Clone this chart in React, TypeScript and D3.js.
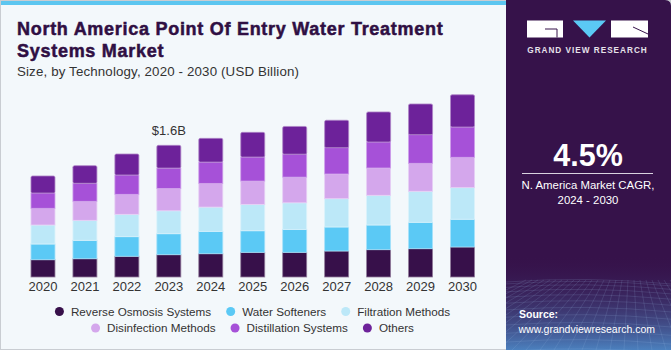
import { useEffect, useRef } from "react"
import * as d3 from "d3"

const years = ["2020", "2021", "2022", "2023", "2024", "2025", "2026", "2027", "2028", "2029", "2030"]
const reverseOsmosis = [0.21, 0.222, 0.252, 0.271, 0.283, 0.3, 0.3, 0.316, 0.332, 0.344, 0.365]
const waterSofteners = [0.191, 0.224, 0.238, 0.255, 0.272, 0.262, 0.279, 0.292, 0.3, 0.321, 0.337]
const filtrationMethods = [0.231, 0.243, 0.272, 0.279, 0.295, 0.321, 0.323, 0.344, 0.361, 0.377, 0.384]
const disinfectionMethods = [0.203, 0.231, 0.243, 0.272, 0.288, 0.283, 0.312, 0.3, 0.332, 0.34, 0.369]
const distillationSystems = [0.186, 0.219, 0.235, 0.247, 0.259, 0.292, 0.279, 0.32, 0.316, 0.348, 0.368]
const others = [0.207, 0.214, 0.255, 0.276, 0.288, 0.3, 0.337, 0.333, 0.365, 0.373, 0.392]

const seriesNames = [
  "Reverse Osmosis Systems",
  "Water Softeners",
  "Filtration Methods",
  "Disinfection Methods",
  "Distillation Systems",
  "Others",
]
const seriesColors = ["#37104a", "#5bc9f5", "#bce8f8", "#d4a7ec", "#a651d8", "#6d229a"]
const legendRows = [
  [0, 1, 2],
  [3, 4, 5],
]
const annotation = { year: "2023", label: "$1.6B" }

const W = 671
const H = 350
const font = "'Liberation Sans', Arial, sans-serif"

export default function App() {
  const svgRef = useRef<SVGSVGElement>(null)

  useEffect(() => {
    if (!svgRef.current) return
    const root = d3.select(svgRef.current)
    root.selectAll("*").remove()

    const values = [reverseOsmosis, waterSofteners, filtrationMethods, disinfectionMethods, distillationSystems, others]
    const table = years.map((year, i) => {
      const row: any = { year }
      seriesNames.forEach((name, s) => (row[name] = values[s][i]))
      return row
    })

    // Background
    root.append("rect").attr("width", W).attr("height", H).attr("fill", "#f3f8fb")
    root.append("rect").attr("x", 0).attr("y", 0).attr("width", 510).attr("height", 5).attr("fill", "#5cc6f0")
    root
      .append("rect")
      .attr("x", 0.5)
      .attr("y", 0.5)
      .attr("width", W - 1)
      .attr("height", H - 1)
      .attr("fill", "none")
      .attr("stroke", "#c9cdd2")

    // Titles
    const title = root
      .append("text")
      .attr("fill", "#2f0f43")
      .attr("font-family", font)
      .attr("font-weight", 700)
      .attr("font-size", 18)
      .attr("letter-spacing", 0.72)
      .attr("stroke", "#2f0f43")
      .attr("stroke-width", 0.5)
    title.append("tspan").attr("x", 17).attr("y", 35).text("North America Point Of Entry Water Treatment")
    title.append("tspan").attr("x", 17).attr("y", 56.5).text("Systems Market")

    root
      .append("text")
      .attr("x", 17)
      .attr("y", 76)
      .attr("fill", "#333")
      .attr("font-family", font)
      .attr("font-size", 13.3)
      .attr("letter-spacing", 0.15)
      .text("Size, by Technology, 2020 - 2030 (USD Billion)")

    // Scales
    const x = d3.scaleBand().domain(years).range([22, 483.5]).paddingInner(0.428).paddingOuter(0.214)
    const y = d3.scaleLinear().domain([0, 2.2]).range([277, 96])

    const stacked = d3.stack().keys(seriesNames)(table)

    const g = root.append("g")
    stacked.forEach((layer, s) => {
      const color = seriesColors[s]
      g.append("g")
        .selectAll("rect")
        .data(layer)
        .enter()
        .append("rect")
        .attr("x", (d: any) => x(d.data.year) || 0)
        .attr("y", (d) => y(d[1]))
        .attr("width", x.bandwidth())
        .attr("height", (d) => y(d[0]) - y(d[1]))
        .attr("fill", color)
        .attr("stroke", d3.interpolateRgb(color, "#ffffff")(0.45))
        .attr("stroke-width", 0.8)
        .attr("rx", s === seriesNames.length - 1 ? 1.5 : 0)
    })

    // X axis labels
    const xAxis = root
      .append("g")
      .attr("transform", `translate(0,${y(0)})`)
      .call(d3.axisBottom(x).tickSize(0).tickPadding(5))
    xAxis.select(".domain").remove()
    xAxis.selectAll("text").attr("font-family", font).attr("font-size", 13).attr("fill", "#333")

    // Annotation
    const idx = years.indexOf(annotation.year)
    const total = d3.sum(values, (v) => v[idx])
    root
      .append("text")
      .attr("x", (x(annotation.year) || 0) + x.bandwidth() / 2)
      .attr("y", y(total) - 10)
      .attr("text-anchor", "middle")
      .attr("font-family", font)
      .attr("font-size", 13)
      .attr("fill", "#333")
      .text(annotation.label)

    // Legend
    const legendCenter = 252.5
    const rowY = [311.5, 328]
    legendRows.forEach((row, r) => {
      const lg = root.append("g")
      let cursor = 0
      row.forEach((s, k) => {
        const item = lg.append("g").attr("transform", `translate(${cursor},0)`)
        item.append("circle").attr("cx", 4.5).attr("cy", 0).attr("r", 4.5).attr("fill", seriesColors[s])
        const t = item
          .append("text")
          .attr("x", 16)
          .attr("y", 4.2)
          .attr("font-family", font)
          .attr("font-size", 11.7)
          .attr("fill", "#333")
          .text(seriesNames[s])
        const len = (t.node() as SVGTextElement).getComputedTextLength()
        cursor += 16 + len + (k < row.length - 1 ? 15 : 0)
      })
      lg.attr("transform", `translate(${legendCenter - cursor / 2},${rowY[r]})`)
    })

    // Right panel
    const px = 506
    const defs = root.append("defs")
    const clip = defs.append("clipPath").attr("id", "panel-clip")
    clip.append("path").attr("d", `M${px},0 H${W - 6} Q${W},0 ${W},6 V${H} H${px} Z`)
    const grad = defs.append("linearGradient").attr("id", "panel-grad").attr("x1", 0).attr("y1", 0).attr("x2", 0).attr("y2", 1)
    grad.append("stop").attr("offset", "0%").attr("stop-color", "#36124a").attr("stop-opacity", 0)
    grad.append("stop").attr("offset", "100%").attr("stop-color", "#4c86c4").attr("stop-opacity", 0.95)

    const panel = root.append("g").attr("clip-path", "url(#panel-clip)")
    panel.append("rect").attr("x", px).attr("y", 0).attr("width", W - px).attr("height", H).attr("fill", "#36124a")
    panel.append("rect").attr("x", px).attr("y", 255).attr("width", W - px).attr("height", 95).attr("fill", "url(#panel-grad)")

    // decorative perspective grid
    const gridG = panel.append("g").attr("stroke", "#9fc3ea").attr("stroke-opacity", 0.25).attr("stroke-width", 0.6).attr("fill", "none")
    d3.range(0, 12).forEach((i) => {
      const yy = 282 + Math.pow(i, 1.5) * 1.9
      gridG.append("path").attr("d", `M${px},${yy} Q${px + 80},${yy - 6} ${W},${yy + 2}`)
    })
    d3.range(-10, 22).forEach((i) => {
      const topX = px + 80 + i * 6
      const botX = px + 80 + i * 14 - 60
      gridG.append("line").attr("x1", topX).attr("y1", 280).attr("x2", botX).attr("y2", H)
    })

    // logo
    const logo = root.append("g")
    logo.append("rect").attr("x", 527).attr("y", 20.5).attr("width", 36).attr("height", 17).attr("fill", "#fff")
    logo
      .append("path")
      .attr("d", "M545,29 H557 V37.5")
      .attr("stroke", "#36124a")
      .attr("stroke-width", 1)
      .attr("fill", "none")
    logo.append("path").attr("d", "M573,20.5 L606,20.5 L589.5,37.5 Z").attr("fill", "#5bc9f5")
    logo.append("rect").attr("x", 611).attr("y", 20.5).attr("width", 37).attr("height", 17).attr("fill", "#fff")
    logo
      .append("path")
      .attr("d", "M633,27 L648,34")
      .attr("stroke", "#36124a")
      .attr("stroke-width", 1)
    root
      .append("text")
      .attr("x", 587.5)
      .attr("y", 53)
      .attr("text-anchor", "middle")
      .attr("font-family", font)
      .attr("font-weight", 700)
      .attr("font-size", 8.2)
      .attr("letter-spacing", 1)
      .attr("fill", "#e6e1ea")
      .text("GRAND VIEW RESEARCH")

    root
      .append("text")
      .attr("x", 588)
      .attr("y", 165.5)
      .attr("text-anchor", "middle")
      .attr("font-family", font)
      .attr("font-weight", 700)
      .attr("font-size", 30.5)
      .attr("fill", "#fff")
      .text("4.5%")
    root.append("line").attr("x1", 522).attr("x2", 653).attr("y1", 173.5).attr("y2", 173.5).attr("stroke", "#d9d2df").attr("stroke-width", 1)
    const cagr = root
      .append("text")
      .attr("text-anchor", "middle")
      .attr("font-family", font)
      .attr("font-size", 11.4)
      .attr("fill", "#fff")
    cagr.append("tspan").attr("x", 588).attr("y", 189).text("N. America Market CAGR,")
    cagr.append("tspan").attr("x", 588).attr("y", 204).text("2024 - 2030")

    root
      .append("text")
      .attr("x", 519)
      .attr("y", 318)
      .attr("font-family", font)
      .attr("font-weight", 700)
      .attr("font-size", 10.5)
      .attr("fill", "#fff")
      .text("Source:")
    root
      .append("text")
      .attr("x", 518.5)
      .attr("y", 332.5)
      .attr("font-family", font)
      .attr("font-size", 10.5)
      .attr("fill", "#fff")
      .text("www.grandviewresearch.com")
  }, [])

  return (
    <svg
      ref={svgRef}
      width={W}
      height={H}
      style={{ position: "absolute", left: 0, top: 0, display: "block" }}
    />
  )
}
